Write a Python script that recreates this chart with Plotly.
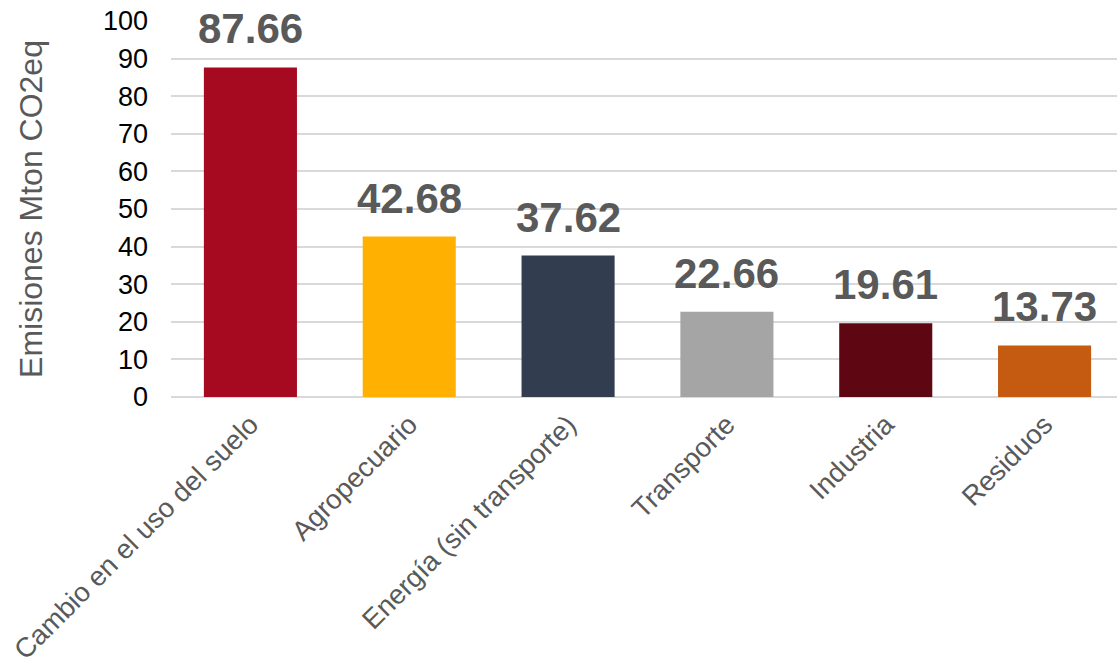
import plotly.graph_objects as go

# Emissions by sector (Mton CO2eq)
categories = [
    "Cambio en el uso del suelo",
    "Agropecuario",
    "Energía (sin transporte)",
    "Transporte",
    "Industria",
    "Residuos",
]
values = [87.66, 42.68, 37.62, 22.66, 19.61, 13.73]
bar_colors = ["#A50A21", "#FFB000", "#323E50", "#A5A5A5", "#5F0613", "#C55A11"]
y_ticks = [0, 10, 20, 30, 40, 50, 60, 70, 80, 90, 100]

FONT = "Liberation Sans, Arial, sans-serif"

fig = go.Figure(
    go.Bar(
        x=categories,
        y=values,
        marker=dict(color=bar_colors, line=dict(width=0)),
        width=0.586,
        hoverinfo="x+y",
    )
)

# Value labels above each bar
for cat, val in zip(categories, values):
    fig.add_annotation(
        x=cat,
        y=val,
        text=f"<b>{val:.2f}</b>",
        showarrow=False,
        yanchor="bottom",
        yshift=13,
        font=dict(family=FONT, size=42, color="#595959"),
    )

fig.update_layout(
    width=1117,
    height=672,
    margin=dict(l=171, r=0, t=21, b=275),
    paper_bgcolor="white",
    plot_bgcolor="white",
    showlegend=False,
    font=dict(family=FONT),
    xaxis=dict(
        range=[-0.5, 5.456],
        automargin=False,
        tickangle=-45,
        tickfont=dict(family=FONT, size=27.5, color="#595959"),
        ticklabelstandoff=5,
        showgrid=False,
        showline=False,
        zeroline=False,
        ticks="",
    ),
    yaxis=dict(
        range=[0, 100],
        automargin=False,
        tickvals=y_ticks,
        tickfont=dict(family=FONT, size=27, color="#000000"),
        ticklabelstandoff=22,
        showgrid=True,
        gridcolor="#D9D9D9",
        gridwidth=1.5,
        zeroline=True,
        zerolinecolor="#D9D9D9",
        zerolinewidth=1.5,
        showline=False,
        ticks="",
        title=dict(
            text="Emisiones Mton CO2eq",
            font=dict(family=FONT, size=32, color="#595959"),
            standoff=50,
        ),
    ),
)

fig.write_html("out.html")
